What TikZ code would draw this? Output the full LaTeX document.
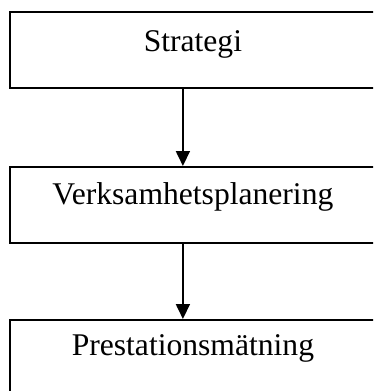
\documentclass[tikz,border=0pt]{standalone}
\usepackage{fontspec}
\setmainfont{Liberation Serif}
\usetikzlibrary{arrows.meta}
\begin{document}
\begin{tikzpicture}[x=1pt,y=1pt,
  box/.style={draw, line width=1.8pt, rectangle, anchor=north west, inner sep=0pt,
    minimum width=366pt, font=\fontsize{31.6}{38}\selectfont},
  arr/.style={line width=1.8pt, -{Triangle[width=14pt,length=15pt]}}]
\useasboundingbox (0,0) rectangle (373,-391);
\clip (0,0) rectangle (373,-391);
\node[box, text height=40pt, text depth=36pt] (b1) at (9,-11) {Strategi};
\node[box, text height=38pt, text depth=38pt] (b2) at (9,-166) {Verksamhetsplanering};
\node[box, text height=36pt, text depth=40pt] (b3) at (9,-319) {Prestationsmätning};
\draw[arr] ([xshift=-10pt]b1.south) -- ([xshift=-10pt]b2.north);
\draw[arr] ([xshift=-10pt]b2.south) -- ([xshift=-10pt]b3.north);
\end{tikzpicture}
\end{document}
